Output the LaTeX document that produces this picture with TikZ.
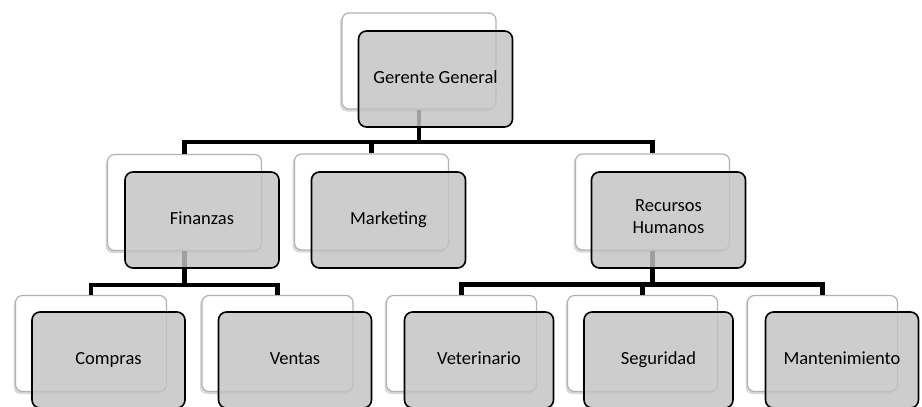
\documentclass[tikz,border=0pt]{standalone}
\usepackage{fontspec}
\setmainfont{Carlito}
\usetikzlibrary{shadows}
\tikzset{
  backbox/.style={draw=gray!60, fill=white, line width=1.2pt, rounded corners=7pt,
    minimum width=154pt, minimum height=96pt,
    drop shadow={shadow xshift=-2pt, shadow yshift=-2.5pt, opacity=0.3}},
  unitbox/.style={draw=black, line width=1.6pt, fill=gray!48, fill opacity=0.82,
    text opacity=1, text=black, rounded corners=8pt, align=center,
    minimum width=154pt, minimum height=96pt,
    font=\fontsize{18.5}{22}\selectfont, execute at begin node=\strut},
  link/.style={line width=4.5pt}
}
\begin{document}
\begin{tikzpicture}[x=1pt,y=-1pt]
  \useasboundingbox (0,0) rectangle (922,407);
  % back boxes
  \node[backbox] (gg-b) at (419,61) {};
  \node[backbox] (fin-b) at (184.5,202.5) {};
  \node[backbox] (mkt-b) at (371.5,202) {};
  \node[backbox] (rh-b) at (652.5,202) {};
  \node[backbox, minimum width=151pt] (com-b) at (91,343.5) {};
  \node[backbox, minimum width=151pt] (ven-b) at (277.5,343.5) {};
  \node[backbox, minimum width=150pt] (vet-b) at (461.5,343.5) {};
  \node[backbox, minimum width=150pt] (seg-b) at (642.5,343.5) {};
  \node[backbox, minimum width=150pt] (man-b) at (822.5,343.5) {};

  % connectors
  \draw[link] (gg-b.south) -- ++(0,32.5) -| (fin-b.north);
  \draw[link] (gg-b.south) -- ++(0,32.5) -| (mkt-b.north);
  \draw[link] (gg-b.south) -- ++(0,32.5) -| (rh-b.north);
  \draw[link] (fin-b.south) -- ++(0,34) -| (com-b.north);
  \draw[link] (fin-b.south) -- ++(0,34) -| (ven-b.north);
  \draw[link] (rh-b.south) -- ++(0,34) -| (vet-b.north);
  \draw[link] (rh-b.south) -- ++(0,34) -| (seg-b.north);
  \draw[link] (rh-b.south) -- ++(0,34) -| (man-b.north);

  % front boxes
  \node[unitbox] (gg) at (435.5,79) {Gerente General};
  \node[unitbox] (fin) at (202,220) {Finanzas};
  \node[unitbox] (mkt) at (388.5,220) {Marketing};
  \node[unitbox] (rh) at (668.5,220) {Recursos\\Humanos};
  \node[unitbox, minimum width=153pt] (com) at (108.5,360) {Compras};
  \node[unitbox, minimum width=153pt] (ven) at (295,360) {Ventas};
  \node[unitbox, minimum width=149pt] (vet) at (479,360) {Veterinario};
  \node[unitbox, minimum width=149pt] (seg) at (658.5,360) {Seguridad};
  \node[unitbox, minimum width=153pt] (man) at (842,360) {Mantenimiento};
\end{tikzpicture}
\end{document}
